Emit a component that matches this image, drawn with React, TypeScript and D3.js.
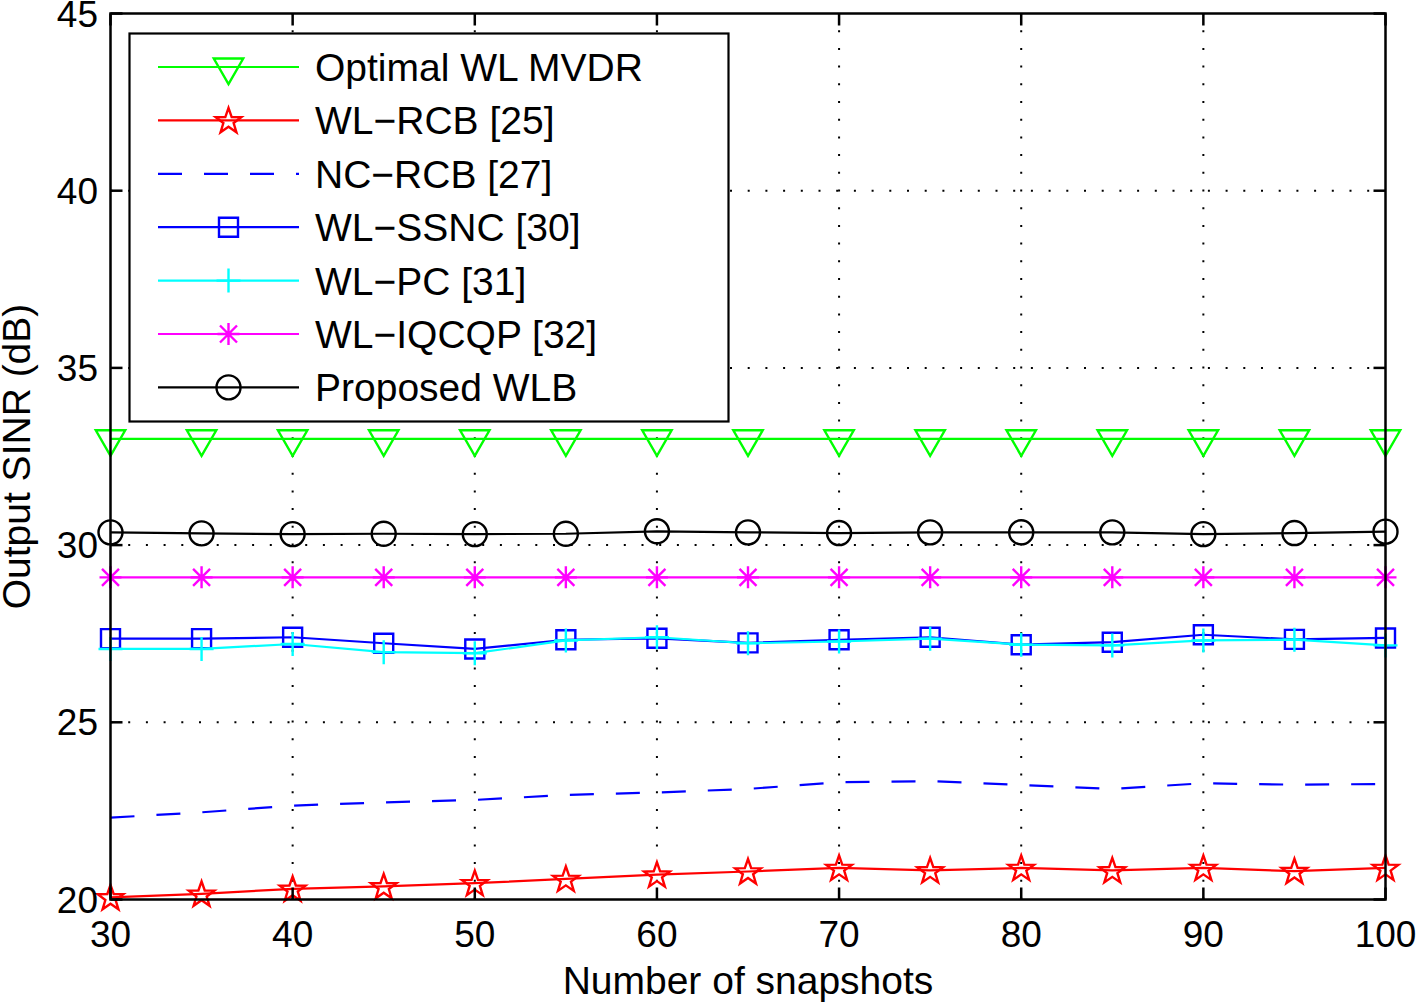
import React from "react";
import * as d3 from "d3";

const snapshots = [30, 35, 40, 45, 50, 55, 60, 65, 70, 75, 80, 85, 90, 95, 100];
const optimalWLMVDR = [33.0, 33.0, 33.0, 33.0, 33.0, 33.0, 33.0, 33.0, 33.0, 33.0, 33.0, 33.0, 33.0, 33.0, 33.0];
const wlRCB = [20.06, 20.16, 20.3, 20.37, 20.46, 20.58, 20.7, 20.79, 20.89, 20.82, 20.89, 20.82, 20.89, 20.8, 20.89];
const ncRCB = [22.31, 22.46, 22.65, 22.74, 22.81, 22.95, 23.02, 23.12, 23.31, 23.34, 23.23, 23.12, 23.28, 23.24, 23.26];
const wlSSNC = [27.36, 27.36, 27.4, 27.23, 27.07, 27.33, 27.37, 27.24, 27.33, 27.4, 27.19, 27.26, 27.47, 27.34, 27.38];
const wlPC = [27.07, 27.07, 27.21, 26.98, 26.95, 27.31, 27.4, 27.23, 27.28, 27.36, 27.19, 27.17, 27.31, 27.33, 27.17];
const wlIQCQP = [29.09, 29.09, 29.09, 29.09, 29.09, 29.09, 29.09, 29.09, 29.09, 29.09, 29.09, 29.09, 29.09, 29.09, 29.09];
const proposedWLB = [30.36, 30.33, 30.31, 30.32, 30.31, 30.32, 30.39, 30.36, 30.34, 30.36, 30.36, 30.36, 30.31, 30.34, 30.38];

const xTicks = [30, 40, 50, 60, 70, 80, 90, 100];
const yTicks = [20, 25, 30, 35, 40, 45];

type Marker = "tri" | "star" | "none" | "square" | "plus" | "asterisk" | "circle";
interface Series {
  name: string;
  values: number[];
  color: string;
  marker: Marker;
  dash?: string;
}

const series: Series[] = [
  { name: "Optimal WL MVDR", values: optimalWLMVDR, color: "#00ff00", marker: "tri" },
  { name: "WL\u2212RCB [25]", values: wlRCB, color: "#ff0000", marker: "star" },
  { name: "NC\u2212RCB [27]", values: ncRCB, color: "#0000ff", marker: "none", dash: "24,22" },
  { name: "WL\u2212SSNC [30]", values: wlSSNC, color: "#0000ff", marker: "square" },
  { name: "WL\u2212PC [31]", values: wlPC, color: "#00ffff", marker: "plus" },
  { name: "WL\u2212IQCQP [32]", values: wlIQCQP, color: "#ff00ff", marker: "asterisk" },
  { name: "Proposed WLB", values: proposedWLB, color: "#000000", marker: "circle" },
];

const FONT = "'Liberation Sans', Arial, Helvetica, sans-serif";

function markerPath(m: Marker, cx: number, cy: number): string {
  const p = d3.path();
  if (m === "tri") {
    const r = 17;
    p.moveTo(cx - r * 0.866, cy - r / 2);
    p.lineTo(cx + r * 0.866, cy - r / 2);
    p.lineTo(cx, cy + r);
    p.closePath();
  } else if (m === "star") {
    const R = 13.5;
    const ri = R * 0.4;
    for (let i = 0; i < 10; i++) {
      const a = -Math.PI / 2 + (i * Math.PI) / 5;
      const rr = i % 2 === 0 ? R : ri;
      const x = cx + rr * Math.cos(a);
      const y = cy + 1 + rr * Math.sin(a);
      if (i === 0) p.moveTo(x, y);
      else p.lineTo(x, y);
    }
    p.closePath();
  } else if (m === "square") {
    const h = 9.5;
    p.rect(cx - h, cy - h, 2 * h, 2 * h);
  } else if (m === "plus") {
    const h = 12;
    p.moveTo(cx - h, cy);
    p.lineTo(cx + h, cy);
    p.moveTo(cx, cy - h);
    p.lineTo(cx, cy + h);
  } else if (m === "asterisk") {
    const h = 11;
    const d = 8.5;
    p.moveTo(cx - h, cy);
    p.lineTo(cx + h, cy);
    p.moveTo(cx, cy - h);
    p.lineTo(cx, cy + h);
    p.moveTo(cx - d, cy - d);
    p.lineTo(cx + d, cy + d);
    p.moveTo(cx - d, cy + d);
    p.lineTo(cx + d, cy - d);
  } else if (m === "circle") {
    const r = 12;
    p.moveTo(cx + r, cy);
    p.arc(cx, cy, r, 0, Math.PI * 2);
  }
  return p.toString();
}

export default function App() {
  const W = 1418;
  const H = 1003;
  const left = 110.5;
  const right = 1385.5;
  const top = 13.5;
  const bottom = 899.5;

  const x = d3.scaleLinear().domain([30, 100]).range([left, right]);
  const y = d3.scaleLinear().domain([20, 45]).range([bottom, top]);

  const line = d3
    .line<number>()
    .x((_, i) => x(snapshots[i]))
    .y((v) => y(v));

  const tickLen = 12;

  // legend layout
  const lgX0 = 129.5;
  const lgY0 = 33.5;
  const lgX1 = 728.5;
  const lgY1 = 421.5;
  const rowY0 = 67;
  const rowStep = 53.4;
  const lineX0 = 158;
  const lineX1 = 299;
  const markX = 228.5;
  const textX = 315;

  return (
    <svg
      width={W}
      height={H}
      style={{ position: "absolute", left: 0, top: 0, display: "block", background: "#fff" }}
      fontFamily={FONT}
    >
      <rect x={0} y={0} width={W} height={H} fill="#fff" />
      {/* grid */}
      <g stroke="#000" strokeWidth={2} strokeDasharray="2,15.7" fill="none">
        {xTicks
          .filter((t) => t !== 30 && t !== 100)
          .map((t) => (
            <line key={"gx" + t} x1={x(t)} x2={x(t)} y1={bottom} y2={top} />
          ))}
        {yTicks
          .filter((t) => t !== 20 && t !== 45)
          .map((t) => (
            <line key={"gy" + t} x1={left} x2={right} y1={y(t)} y2={y(t)} />
          ))}
      </g>

      {/* series */}
      {series.map((s) => (
        <g key={s.name}>
          <path
            d={line(s.values) || ""}
            fill="none"
            stroke={s.color}
            strokeWidth={2.2}
            strokeDasharray={s.dash}
          />
          {s.marker !== "none" &&
            s.values.map((v, i) => (
              <path
                key={i}
                d={markerPath(s.marker, x(snapshots[i]), y(v))}
                fill="none"
                stroke={s.color}
                strokeWidth={2.4}
              />
            ))}
        </g>
      ))}

      {/* axes frame */}
      <rect x={left} y={top} width={right - left} height={bottom - top} fill="none" stroke="#000" strokeWidth={2.5} />
      <g stroke="#000" strokeWidth={2.5}>
        {xTicks.map((t) => (
          <g key={"tx" + t}>
            <line x1={x(t)} x2={x(t)} y1={bottom} y2={bottom - tickLen} />
            <line x1={x(t)} x2={x(t)} y1={top} y2={top + tickLen} />
          </g>
        ))}
        {yTicks.map((t) => (
          <g key={"ty" + t}>
            <line x1={left} x2={left + tickLen} y1={y(t)} y2={y(t)} />
            <line x1={right} x2={right - tickLen} y1={y(t)} y2={y(t)} />
          </g>
        ))}
      </g>

      {/* tick labels */}
      <g fontSize={37} fill="#000">
        {xTicks.map((t) => (
          <text key={"lx" + t} x={x(t)} y={947} textAnchor="middle">
            {t}
          </text>
        ))}
        {yTicks.map((t) => (
          <text key={"ly" + t} x={98} y={y(t) + 13} textAnchor="end">
            {t}
          </text>
        ))}
      </g>

      {/* axis labels */}
      <text x={(left + right) / 2} y={994} fontSize={39} textAnchor="middle" fill="#000">
        Number of snapshots
      </text>
      <text
        transform={`translate(30,${(top + bottom) / 2}) rotate(-90)`}
        fontSize={39}
        textAnchor="middle"
        fill="#000"
      >
        Output SINR (dB)
      </text>

      {/* legend */}
      <rect x={lgX0} y={lgY0} width={lgX1 - lgX0} height={lgY1 - lgY0} fill="#fff" stroke="#000" strokeWidth={2.2} />
      {series.map((s, i) => {
        const ry = rowY0 + i * rowStep;
        return (
          <g key={"lg" + i}>
            <line
              x1={lineX0}
              x2={lineX1}
              y1={ry}
              y2={ry}
              stroke={s.color}
              strokeWidth={2.2}
              strokeDasharray={s.dash}
            />
            {s.marker !== "none" && (
              <path d={markerPath(s.marker, markX, ry)} fill="none" stroke={s.color} strokeWidth={2.4} />
            )}
            <text x={textX} y={ry + 14} fontSize={39} fill="#000">
              {s.name}
            </text>
          </g>
        );
      })}
    </svg>
  );
}
